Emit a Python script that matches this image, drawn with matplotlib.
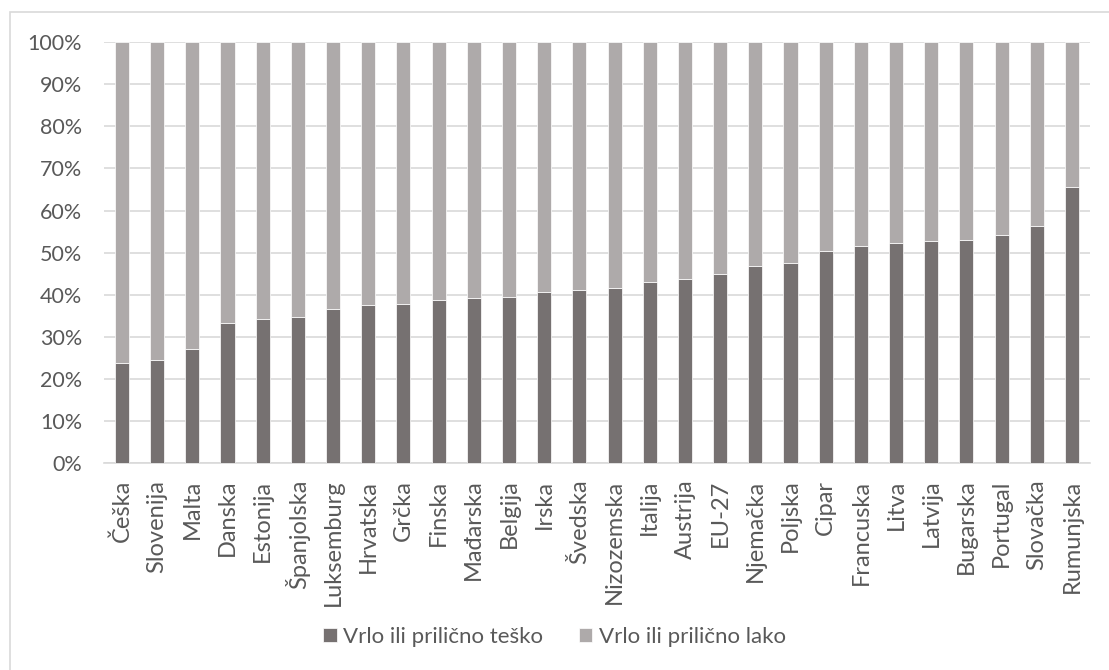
import matplotlib.pyplot as plt
from matplotlib.patches import Rectangle
from matplotlib.ticker import PercentFormatter

plt.rcParams['font.family'] = ['Lato', 'DejaVu Sans']

# Države i udjeli (%)
countries = ["Češka", "Slovenija", "Malta", "Danska", "Estonija", "Španjolska",
             "Luksemburg", "Hrvatska", "Grčka", "Finska", "Mađarska", "Belgija",
             "Irska", "Švedska", "Nizozemska", "Italija", "Austrija", "EU-27",
             "Njemačka", "Poljska", "Cipar", "Francuska", "Litva", "Latvija",
             "Bugarska", "Portugal", "Slovačka", "Rumunjska"]
tesko = [23.7, 24.4, 27.0, 33.3, 34.3, 34.6, 36.7, 37.6, 37.8, 38.8, 39.2, 39.5,
         40.7, 41.2, 41.6, 43.0, 43.8, 44.9, 46.8, 47.6, 50.4, 51.5, 52.2, 52.7,
         53.0, 54.2, 56.4, 65.7]
lako = [100 - v for v in tesko]

dark = "#767171"
light = "#AEAAAA"
text_col = "#595959"
grid_col = "#D9D9D9"

fig = plt.figure(figsize=(11.09, 6.7), dpi=100)
ax = fig.add_axes([0.0941, 0.309, 0.8884, 0.628])

x = range(len(countries))
ax.bar(x, tesko, width=0.4, color=dark, edgecolor="white", linewidth=0.5,
       label="Vrlo ili prilično teško", zorder=3)
ax.bar(x, lako, width=0.4, bottom=tesko, color=light, edgecolor="white",
       linewidth=0.5, label="Vrlo ili prilično lako", zorder=3)

ax.set_xlim(-0.5, len(countries) - 0.5)
ax.set_ylim(0, 100)
ax.set_yticks(range(0, 101, 10))
ax.yaxis.set_major_formatter(PercentFormatter(decimals=0))
ax.set_xticks(list(x))
ax.set_xticklabels(countries, rotation=90)
ax.tick_params(axis="both", length=0, colors=text_col)
ax.tick_params(axis="x", pad=12, labelsize=17)
ax.tick_params(axis="y", pad=16, labelsize=15.5)

ax.grid(axis="y", color=grid_col, linewidth=1.2, zorder=0)
for side in ["top", "right", "left"]:
    ax.spines[side].set_visible(False)
ax.spines["bottom"].set_color(grid_col)
ax.spines["bottom"].set_linewidth(1.2)

fig.legend(loc="center", bbox_to_anchor=(0.5, 0.049), ncol=2, frameon=False,
           fontsize=16, labelcolor=text_col, handlelength=0.6, handleheight=0.6,
           handletextpad=0.3, columnspacing=1.6)

# okvir grafikona
fig.patches.append(Rectangle((10 / 1109, -0.1), 1.2, 1 - 12 / 670 + 0.1,
                             transform=fig.transFigure, fill=False,
                             edgecolor=grid_col, linewidth=1.2))

plt.savefig("out.png")
